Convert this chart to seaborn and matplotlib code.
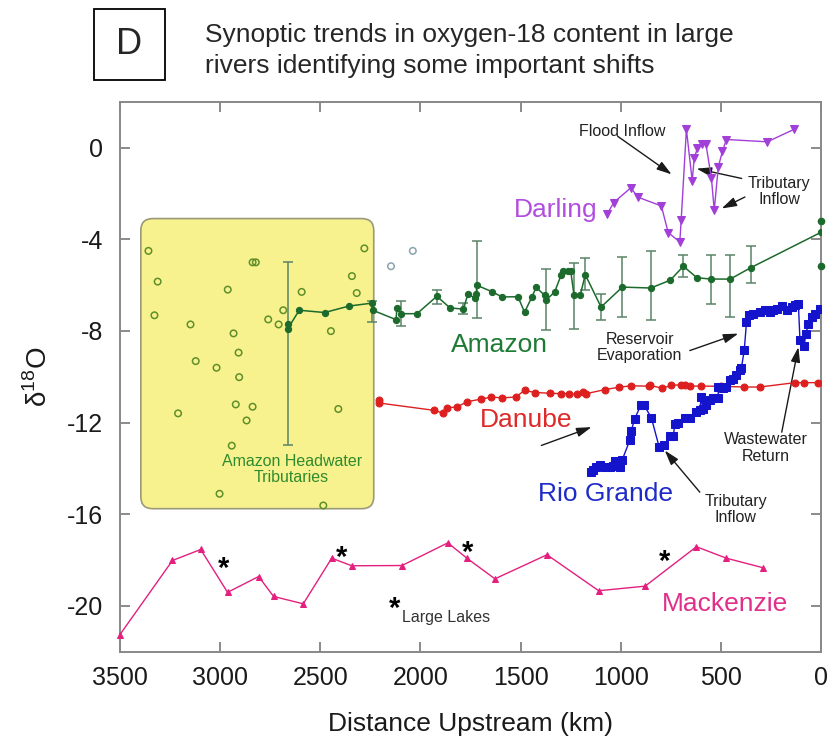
import numpy as np
import pandas as pd
import matplotlib
matplotlib.use("Agg")
import matplotlib.pyplot as plt
from matplotlib.patches import FancyBboxPatch, Rectangle
import seaborn as sns

# --- dati (distanza a monte in km, delta 18O) ---
mac_km = [3500, 3238, 3097, 2963, 2808, 2733, 2585, 2443, 2343, 2092, 1863, 1768, 1628, 1368, 1110, 878, 622, 472, 288]
mac_d18o = [-21.25, -18.02, -17.54, -19.41, -18.72, -19.59, -19.91, -17.92, -18.25, -18.24, -17.25, -17.92, -18.82,
            -17.77, -19.34, -19.14, -17.42, -17.92, -18.34]

dan_km = [2205, 2205, 1930, 1885, 1868, 1818, 1768, 1697, 1647, 1592, 1525, 1480, 1427, 1355, 1300, 1260, 1218, 1188,
          1172, 1077, 1008, 950, 860, 855, 792, 747, 697, 680, 655, 597, 497, 383, 305, 130, 85, 13]
dan_d18o = [-11.0, -11.15, -11.47, -11.6, -11.35, -11.33, -11.09, -10.98, -10.89, -10.92, -10.89, -10.6, -10.69, -10.72,
            -10.74, -10.74, -10.77, -10.66, -10.74, -10.56, -10.46, -10.4, -10.41, -10.38, -10.5, -10.38, -10.35, -10.35,
            -10.41, -10.41, -10.42, -10.45, -10.45, -10.26, -10.26, -10.26]

rio_km = [1150, 1140, 1125, 1105, 1080, 1055, 1040, 1030, 1018, 1005, 992, 955, 947, 930, 900, 883, 847, 808, 783, 755,
          737, 730, 713, 680, 655, 622, 605, 598, 590, 575, 555, 540, 513, 513, 490, 475, 453, 440, 422, 405,
          397, 383, 372, 358, 338, 305, 280, 255, 242, 222, 197, 172, 147, 130, 113, 105, 85, 75, 63, 47, 30, 5]
rio_d18o = [-14.15, -14.05, -13.95, -13.85, -13.95, -13.95, -13.9, -13.66, -13.9, -13.95, -13.62, -12.78, -12.35, -11.83,
            -11.25, -11.25, -11.79, -13.07, -13.0, -12.6, -12.58, -12.05, -12.03, -11.81, -11.79, -11.55, -11.47, -10.9,
            -11.4, -11.25, -11.0, -10.95, -10.92, -10.45, -10.5, -10.45, -10.16, -10.1, -9.94, -9.72, -9.61, -8.82,
            -7.62, -7.32, -7.25, -7.19, -7.1, -7.18, -7.1, -7.03, -6.93, -7.1, -6.96, -6.89, -6.81, -8.41, -8.68,
            -8.12, -7.69, -7.4, -7.25, -7.03]

dar_km = [1068, 1035, 950, 913, 797, 763, 705, 698, 672, 643, 633, 617, 595, 575, 547, 533, 513, 492, 472, 268, 133]
dar_d18o = [-2.91, -2.4, -1.76, -2.17, -2.55, -3.71, -4.12, -3.16, 0.8, -1.46, -0.45, -0.04, 0.17, 0.17, -1.35, -2.74,
            -0.85, -0.16, 0.35, 0.25, 0.8]

amz_km = [2662, 2662, 2605, 2478, 2358, 2243, 2238, 2122, 2117, 2097, 2017, 1918, 1852, 1785, 1763, 1728, 1722, 1718,
          1643, 1592, 1513, 1480, 1443, 1422, 1380, 1375, 1330, 1297, 1288, 1262, 1250, 1233, 1202, 1177, 1098, 992,
          850, 753, 687, 620, 550, 453, 350, 0]
amz_d18o = [-7.69, -7.9, -7.1, -7.2, -6.92, -6.79, -7.1, -7.51, -7.0, -7.25, -7.25, -6.49, -7.0, -7.05, -6.39, -6.57,
            -6.41, -6.01, -6.29, -6.52, -6.51, -7.19, -6.51, -6.1, -6.45, -6.67, -6.31, -5.55, -5.39, -5.37, -5.37,
            -6.45, -6.44, -5.55, -6.96, -6.09, -6.13, -5.79, -5.18, -5.68, -5.74, -5.74, -5.24, -3.7]
amz_mouth_km = [0, 0]
amz_mouth_d18o = [-3.2, -5.15]

# barre d'errore Amazon (minimo / massimo)
err_km = [2662, 2243, 2097, 1918, 1785, 1718, 1375, 1233, 1177, 1098, 992, 850, 687, 550, 453, 350]
err_lo = [-13.0, -7.6, -7.8, -6.81, -7.27, -7.42, -7.98, -7.9, -6.2, -7.51, -7.4, -7.54, -5.65, -6.81, -7.4, -5.91]
err_hi = [-5.0, -6.7, -6.7, -6.23, -6.79, -4.09, -5.31, -5.02, -4.8, -6.4, -4.78, -4.51, -4.7, -4.7, -4.7, -4.31]

# affluenti di testata (cerchi vuoti)
hw_km = [3358, 3312, 3328, 3148, 2962, 2933, 2838, 2822, 2760, 2708, 2685, 2593, 2447, 2342, 2318, 2280, 2908, 3122,
         3018, 2905, 3210, 2922, 2838, 2868, 2410, 2942, 3003, 2485]
hw_d18o = [-4.51, -5.85, -7.32, -7.72, -6.2, -8.11, -5.01, -5.01, -7.5, -7.72, -7.1, -6.3, -8.01, -5.61, -6.35, -4.4,
           -8.95, -9.32, -9.61, -10.02, -11.6, -11.21, -11.31, -11.91, -11.41, -13.01, -15.11, -15.62]
low_km = [2147, 2038]
low_d18o = [-5.18, -4.51]

star_km = [2985, 2392, 1763, 780, 2130]
star_d18o = [-18.1, -17.62, -17.41, -17.8, -19.84]

x_ticks = [3500, 3000, 2500, 2000, 1500, 1000, 500, 0]
y_ticks = [0, -4, -8, -12, -16, -20]

sns.set_style("ticks")
plt.rcParams['font.family'] = ['Liberation Sans', 'DejaVu Sans']
plt.rcParams['axes.unicode_minus'] = False
plt.rcParams['mathtext.fontset'] = 'custom'
plt.rcParams['mathtext.rm'] = 'Liberation Sans'

fig = plt.figure(figsize=(8.32, 7.47), dpi=100)
ax = fig.add_axes([0.14423, 0.12758, 0.84255, 0.73628])

# riquadro giallo
box = FancyBboxPatch((2233, -15.76), 1163, 12.66, boxstyle="round,pad=0,rounding_size=60",
                     mutation_aspect=0.0087, facecolor='#f8f28e', edgecolor='#9a9a7a', lw=1.2, zorder=0)
ax.add_patch(box)

hw = pd.DataFrame({'km': hw_km, 'd18o': hw_d18o})
sns.scatterplot(data=hw, x='km', y='d18o', ax=ax, marker='o', s=22, facecolors='none',
                edgecolor='#5f8f2a', linewidth=1.1, zorder=3)
low = pd.DataFrame({'km': low_km, 'd18o': low_d18o})
sns.scatterplot(data=low, x='km', y='d18o', ax=ax, marker='o', s=22, facecolors='none',
                edgecolor='#8aa3ad', linewidth=1.1, zorder=3)

# Amazon con barre d'errore
err = pd.DataFrame({'km': err_km, 'lo': err_lo, 'hi': err_hi})
ax.errorbar(err['km'], (err['lo'] + err['hi']) / 2, yerr=(err['hi'] - err['lo']) / 2, fmt='none',
            ecolor='#5a8466', elinewidth=1.1, capsize=3.5, capthick=1.1, zorder=2)
amz = pd.DataFrame({'km': amz_km, 'd18o': amz_d18o})
sns.lineplot(data=amz, x='km', y='d18o', ax=ax, sort=False, estimator=None, color='#1c6a2c', lw=1.1,
             marker='o', markersize=4.5, markeredgecolor='#1c6a2c', zorder=4)
ax.plot(amz_mouth_km, amz_mouth_d18o, 'o', color='#1c6a2c', ms=4.5, zorder=4, clip_on=False)

dan = pd.DataFrame({'km': dan_km, 'd18o': dan_d18o})
sns.lineplot(data=dan, x='km', y='d18o', ax=ax, sort=False, estimator=None, color='#dd1f1f', lw=1.0,
             marker='o', markersize=5, markeredgecolor='#dd1f1f', zorder=4)

rio = pd.DataFrame({'km': rio_km, 'd18o': rio_d18o})
sns.lineplot(data=rio, x='km', y='d18o', ax=ax, sort=False, estimator=None, color='#1414cc', lw=1.0,
             marker='s', markersize=6, markeredgecolor='#1414cc', zorder=5)

dar = pd.DataFrame({'km': dar_km, 'd18o': dar_d18o})
sns.lineplot(data=dar, x='km', y='d18o', ax=ax, sort=False, estimator=None, color='#a13fd8', lw=1.0,
             marker='v', markersize=5.5, markeredgecolor='#a13fd8', zorder=4)

mac = pd.DataFrame({'km': mac_km, 'd18o': mac_d18o})
sns.lineplot(data=mac, x='km', y='d18o', ax=ax, sort=False, estimator=None, color='#e3207f', lw=1.0,
             marker='^', markersize=5, markeredgecolor='#e3207f', zorder=4, clip_on=False)

for k, v in zip(star_km, star_d18o):
    ax.text(k, v - 0.3, '*', fontsize=21, fontweight='bold', ha='center', va='center', color='black')

# etichette dei fiumi
ax.text(1325, -2.74, 'Darling', color='#b14ddf', fontsize=19, ha='center', va='center')
ax.text(1605, -8.63, 'Amazon', color='#1f7a35', fontsize=19, ha='center', va='center')
ax.text(1470, -11.91, 'Danube', color='#dd2a2a', fontsize=19, ha='center', va='center')
ax.text(1075, -15.14, 'Rio Grande', color='#1f2bc8', fontsize=19, ha='center', va='center')
ax.text(480, -19.94, 'Mackenzie', color='#e0308a', fontsize=19, ha='center', va='center')
ax.text(2643, -14.05, 'Amazon Headwater\nTributaries', color='#2e8b2e', fontsize=11.5, ha='center',
        va='center', linespacing=1.05)
ax.text(2090, -20.5, 'Large Lakes', color='#333333', fontsize=11.5, ha='left', va='center')

# annotazioni con frecce
arrow = dict(arrowstyle='-|>,head_length=0.9,head_width=0.28', color='#1a1a1a', lw=1.0, shrinkA=0, shrinkB=0)
note = dict(fontsize=11.5, color='#222222', ha='center', va='center', linespacing=1.1)
ax.text(995, 0.72, 'Flood Inflow', **note)
ax.annotate('', xy=(746, -1.17), xytext=(1015, 0.49), arrowprops=arrow)
ax.text(210, -1.91, 'Tributary\nInflow', **note)
ax.annotate('', xy=(621, -0.92), xytext=(396, -1.35), arrowprops=arrow)
ax.annotate('', xy=(496, -2.66), xytext=(380, -2.16), arrowprops=arrow)
ax.text(905, -8.74, 'Reservoir\nEvaporation', **note)
ax.annotate('', xy=(413, -8.12), xytext=(655, -8.86), arrowprops=arrow)
ax.text(275, -13.11, 'Wastewater\nReturn', **note)
ax.annotate('', xy=(113, -8.71), xytext=(196, -12.42), arrowprops=arrow)
ax.text(425, -15.79, 'Tributary\nInflow', **note)
ax.annotate('', xy=(780, -13.22), xytext=(605, -15.04), arrowprops=arrow)
ax.annotate('', xy=(1146, -12.2), xytext=(1396, -13.0), arrowprops=arrow)

ax.set_xlim(3500, 0)
ax.set_ylim(-22, 2)
ax.set_xticks(x_ticks)
ax.set_yticks(y_ticks)
ax.set_xticklabels([str(t) for t in x_ticks])
ax.set_yticklabels([str(t) for t in y_ticks])
ax.tick_params(direction='in', length=7, width=1.2, color='#777777', labelsize=18, top=True, right=True,
               labelcolor='#1a1a1a')
ax.tick_params(axis='x', pad=10)
ax.tick_params(axis='y', pad=12)
for sp in ax.spines.values():
    sp.set_color('#888888')
    sp.set_linewidth(1.4)
ax.set_xlabel('Distance Upstream (km)', fontsize=19, labelpad=16, color='#1a1a1a')
ax.set_ylabel(r'δ$^{18}$O', fontsize=20, labelpad=10, color='#1a1a1a')

# riquadro "D" e titolo
fig.patches.append(Rectangle((94 / 832, 1 - 80 / 747), 71 / 832, 71 / 747, transform=fig.transFigure,
                             fill=False, edgecolor='black', lw=1.3))
fig.text(129.5 / 832, 1 - 45 / 747, 'D', fontsize=26, ha='center', va='center')
fig.text(205 / 832, 1 - 35 / 747, 'Synoptic trends in oxygen-18 content in large', fontsize=19, ha='left', va='center')
fig.text(205 / 832, 1 - 66 / 747, 'rivers identifying some important shifts', fontsize=19, ha='left', va='center')

fig.savefig('out.png', dpi=100)
